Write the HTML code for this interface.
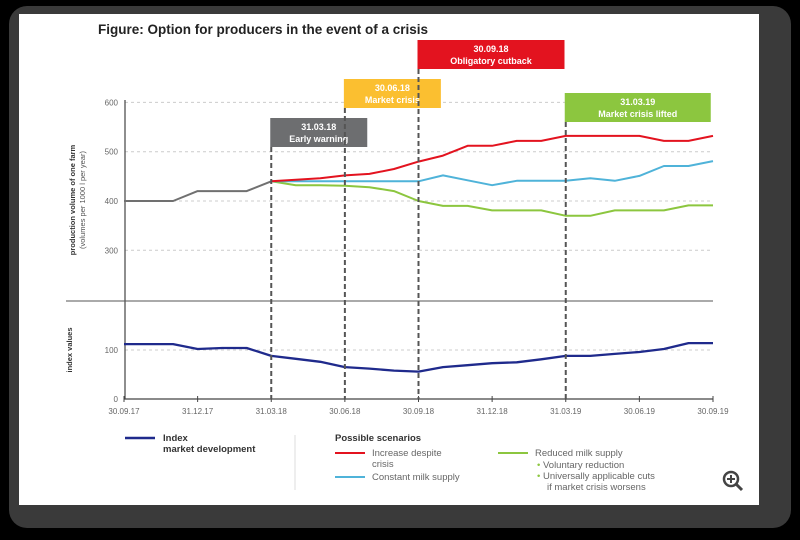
<!DOCTYPE html>
<html><head><meta charset="utf-8"><style>
body{margin:0;width:800px;height:535px;background:#000;overflow:hidden;font-family:"Liberation Sans",sans-serif}
</style></head><body>
<svg width="800" height="535" xmlns="http://www.w3.org/2000/svg" id="chart">
<rect x="9" y="6" width="782" height="522" rx="18" fill="#3a3a3a"/>
<rect x="19" y="14" width="740" height="491" fill="#fff"/>
<text x="98" y="34" font-size="13.5" font-weight="bold" fill="#222">Figure: Option for producers in the event of a crisis</text>
<g id="grid"></g><g id="marks"></g><g id="ann"></g>
<text transform="translate(75,200) rotate(-90)" text-anchor="middle" font-size="7.5" font-weight="bold" fill="#333">production volume of one farm</text>
<text transform="translate(85,200) rotate(-90)" text-anchor="middle" font-size="7.5" fill="#555">(volumes per 1000 l per year)</text>
<text transform="translate(72,350) rotate(-90)" text-anchor="middle" font-size="7.5" font-weight="bold" fill="#333">index values</text>
<g font-size="9.5">
<line x1="125" y1="438" x2="155" y2="438" stroke="#1f2a8c" stroke-width="2.5"/>
<text x="163" y="441" font-weight="bold" fill="#333">Index</text>
<text x="163" y="452" font-weight="bold" fill="#333">market development</text>
<line x1="295" y1="435" x2="295" y2="490" stroke="#ddd"/>
<text x="335" y="441" font-weight="bold" fill="#333">Possible scenarios</text>
<line x1="335" y1="453" x2="365" y2="453" stroke="#e3131f" stroke-width="2"/>
<text x="372" y="456" fill="#666">Increase despite</text>
<text x="372" y="467" fill="#666">crisis</text>
<line x1="335" y1="477" x2="365" y2="477" stroke="#4fb3d9" stroke-width="2"/>
<text x="372" y="480" fill="#666">Constant milk supply</text>
<line x1="498" y1="453" x2="528" y2="453" stroke="#8cc63f" stroke-width="2"/>
<text x="535" y="456" fill="#666">Reduced milk supply</text>
<text x="537" y="468" fill="#666"><tspan fill="#8cc63f">•</tspan> Voluntary reduction</text>
<text x="537" y="479" fill="#666"><tspan fill="#8cc63f">•</tspan> Universally applicable cuts</text>
<text x="547" y="490" fill="#666">if market crisis worsens</text>
</g>
<g>
<circle cx="731" cy="479" r="7" fill="none" stroke="#444" stroke-width="2.5"/>
<line x1="736" y1="484" x2="742" y2="490" stroke="#444" stroke-width="3"/>
<line x1="727" y1="479" x2="735" y2="479" stroke="#444" stroke-width="2"/>
<line x1="731" y1="475" x2="731" y2="483" stroke="#444" stroke-width="2"/>
</g>
</svg>
<script>
const xTickLabels=["30.09.17","31.12.17","31.03.18","30.06.18","30.09.18","31.12.18","31.03.19","30.06.19","30.09.19"];
const upperTicks=[300,400,500,600];
const lowerTicks=[0,100];
const grayHistory=[400,400,400,420,420,420,440];
const redIncrease=[440,443,446,452,455,465,480,492,512,512,522,522,532,532,532,532,522,522,532];
const blueConstant=[440,440,440,440,440,440,440,452,442,432,441,441,441,446,441,451,471,471,481];
const greenReduced=[440,432,432,431,428,420,400,390,390,381,381,381,370,370,381,381,381,391,391];
const indexValues=[112,112,112,102,104,104,88,82,76,65,62,58,56,65,69,73,75,81,88,88,92,96,102,114,114];
const scenarioStartMonth=6;
const annotations=[
 {month:6,date:"31.03.18",label:"Early warning",color:"#6d6e70",top:118,w:97},
 {month:9,date:"30.06.18",label:"Market crisis",color:"#fbbf30",top:79,w:97},
 {month:12,date:"30.09.18",label:"Obligatory cutback",color:"#e3131f",top:40,w:147},
 {month:18,date:"31.03.19",label:"Market crisis lifted",color:"#8cc63f",top:93,w:146}];
const NS="http://www.w3.org/2000/svg";
const X0=124,X1=713;
const xm=m=>X0+(X1-X0)*m/24;
const yU=v=>201-(v-400)*0.493;
const yL=v=>399-v*0.49;
function mk(p,t,a){const e=document.createElementNS(NS,t);for(const k in a)e.setAttribute(k,a[k]);p.appendChild(e);return e;}
const grid=document.getElementById('grid'),marks=document.getElementById('marks'),ann=document.getElementById('ann');
upperTicks.forEach(v=>{
 const l=mk(grid,'line',{x1:125,x2:713,y1:yU(v),y2:yU(v),stroke:'#ccc','stroke-dasharray':'3,3'});
 
 const t=mk(grid,'text',{x:118,y:yU(v)+3,'text-anchor':'end','font-size':8,fill:'#666'});t.textContent=v;
 
});
lowerTicks.forEach(v=>{
 if(v>0){const l=mk(grid,'line',{x1:125,x2:713,y1:yL(v),y2:yL(v),stroke:'#ccc','stroke-dasharray':'3,3'});
 }
 const t=mk(grid,'text',{x:118,y:yL(v)+3,'text-anchor':'end','font-size':8,fill:'#666'});t.textContent=v;
 
});
let a=mk(grid,'line',{x1:125,x2:125,y1:100,y2:399,stroke:'#444','stroke-width':1.2});

a=mk(grid,'line',{x1:66,x2:713,y1:301,y2:301,stroke:'#555','stroke-width':1});

a=mk(grid,'line',{x1:124,x2:713,y1:399,y2:399,stroke:'#444','stroke-width':1.2});

xTickLabels.forEach((s,i)=>{
 const x=xm(i*3);
 mk(grid,'line',{x1:x,x2:x,y1:396,y2:402,stroke:'#444'});
 const t=mk(grid,'text',{x:x,y:414,'text-anchor':'middle','font-size':8,fill:'#666'});t.textContent=s;
 
});
annotations.forEach(o=>{
 const x=xm(o.month);
 const l=mk(ann,'line',{x1:x,x2:x,y1:o.top+29,y2:399,stroke:'#555','stroke-width':2,'stroke-dasharray':'5,3'});
 
 const r=mk(ann,'rect',{x:x-1,y:o.top,width:o.w,height:29,fill:o.color});
 
 const t1=mk(ann,'text',{x:x-1+o.w/2,y:o.top+12,'text-anchor':'middle','font-size':9,'font-weight':'bold',fill:'#fff'});t1.textContent=o.date;
 
 const t2=mk(ann,'text',{x:x-1+o.w/2,y:o.top+24,'text-anchor':'middle','font-size':9,'font-weight':'bold',fill:'#fff'});t2.textContent=o.label;
 
});
function line(arr,start,yf,color,name,w){
 const d=arr.map((v,i)=>(i?'L':'M')+xm(start+i).toFixed(1)+','+yf(v).toFixed(1)).join(' ');
 const p=mk(marks,'path',{d:d,fill:'none',stroke:color,'stroke-width':w||2,'stroke-linejoin':'round'});
 
}
line(grayHistory,0,yU,'#707070','series-history');
line(greenReduced,scenarioStartMonth,yU,'#8cc63f','series-reduced-supply');
line(blueConstant,scenarioStartMonth,yU,'#4fb3d9','series-constant-supply');
line(redIncrease,scenarioStartMonth,yU,'#e3131f','series-increase');
line(indexValues,0,yL,'#1f2a8c','series-index',2.3);
</script>
</body></html>
